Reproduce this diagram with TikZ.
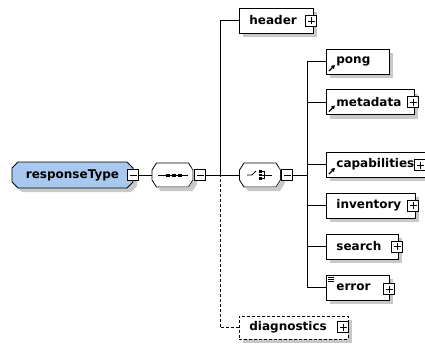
\documentclass[tikz,border=0pt]{standalone}
\usepackage{fontspec}
\setmainfont{DejaVu Sans}
\usetikzlibrary{arrows.meta, shapes.misc, shadows}
\definecolor{typecolor}  {RGB}{168, 200, 240}
\definecolor{shadecolor} {RGB}{200, 200, 200}
% octagon of a compositor (41 x 24) centred at (#1,#2), then its shadow rim
\newcommand{\compoutline}[2]{%
	\filldraw[fill=white, draw=black, line width=0.8pt] (#1,#2) ++(-16,-12)
		-- ++(32,0) -- ++(4.5,7) -- ++(0,10) -- ++(-4.5,7) -- ++(-32,0)
		-- ++(-4.5,-7) -- ++(0,-10) -- cycle;
	\begin{scope}[shift={(#1,#2)}]
		\fill[shadecolor] (18.9,-7.5) -- (20,-7.5) -- (24.5,-1) -- (24.5,9)
			-- (20,16) -- (-12,16) -- (-14.6,12.4) -- (16.2,12.4)
			-- (20.9,5.1) -- (20.9,-5.1) -- cycle;
	\end{scope}
}
\tikzset{
	xsdshadow/.style={
		drop shadow={shadow xshift=4pt, shadow yshift=-4pt,
			fill=shadecolor, opacity=1}
	},
	elembox/.style={
		rectangle, draw=black, fill=white, line width=0.8pt,
		minimum height=25pt, inner xsep=10pt, inner ysep=0pt,
		align=left, anchor=west, xsdshadow,
		font=\fontsize{12}{14}\selectfont\bfseries
	},
	optbox/.style={
		elembox, dashed, dash pattern=on 3pt off 2pt, minimum height=23pt
	},
	typebox/.style={
		chamfered rectangle, chamfered rectangle sep=3pt,
		draw=black, fill=typecolor, line width=0.8pt,
		minimum width=121pt, minimum height=26pt, inner sep=0pt,
		xsdshadow, font=\fontsize{12}{14}\selectfont\bfseries
	},
	compbox/.style={
		rectangle, minimum width=41pt, minimum height=24pt, inner sep=0pt
	},
	icon/.style={line width=0.9pt},
	refelem/.style={
		path picture={
			\draw[line width=1.2pt, -{Triangle[length=3.5pt, width=4pt]}]
				([xshift=2.5pt, yshift=3pt]path picture bounding box.south west)
				-- ++(6,-6);
		}
	},
	docelem/.style={
		path picture={
			\foreach \k in {2,4,6}
				\draw[line width=0.6pt]
					([xshift=2pt, yshift=-\k pt]path picture bounding box.north west)
					-- ++(6,0);
		}
	},
	signbox/.style={
		rectangle, draw=black, fill=white, line width=0.8pt,
		minimum size=11pt, inner sep=0pt
	},
	minusbox/.style={
		signbox,
		path picture={
			\draw[line width=0.8pt]
				([xshift=2pt]path picture bounding box.west)
				-- ([xshift=-2pt]path picture bounding box.east);
		}
	},
	plusbox/.style={
		signbox,
		path picture={
			\draw[line width=0.8pt]
				([xshift=2pt]path picture bounding box.west)
				-- ([xshift=-2pt]path picture bounding box.east);
			\draw[line width=0.8pt]
				([yshift=-2pt]path picture bounding box.north)
				-- ([yshift=2pt]path picture bounding box.south);
		}
	},
	link/.style={draw=black, line width=0.8pt},
	optlink/.style={link, dash pattern=on 3pt off 2pt}
}

\begin{document}
\begin{tikzpicture}[x=1pt, y=-1pt]
	\useasboundingbox (0,0) rectangle (425,345);
	
	%% ═══════════════════════════════
	%%  TRUNK POINTS
	%% ═══════════════════════════════
	\coordinate (trunkA) at (220,175);
	\coordinate (trunkB) at (307,175);
	
	%% ═══════════════════════════════
	%%  COLUMN 0 — complex type + sequence
	%% ═══════════════════════════════
	\node[typebox] (resptype) at (72.5,175) {responseType\hspace{14pt}};
	\node[minusbox] (respminus) at (133,175) {};
	
	\compoutline{172.5}{175}
	\node[compbox] (seq) at (172.5,175) {};
	\node[minusbox] (seqminus) at (200,175) {};
	
	% sequence icon
	\begin{scope}[shift={(seq.center)}, icon]
		\draw (-15,0) -- (15,0);
		\foreach \d in {-5,1,7}
			\fill (\d-2,-1.5) rectangle ++(4,3);
	\end{scope}
	
	%% ═══════════════════════════════
	%%  COLUMN 1 — header, choice, diagnostics
	%% ═══════════════════════════════
	\node[elembox, text width=54pt] (header) at (239,20.5) {header};
	\node[plusbox] (headerplus) at (311,21) {};
	
	\compoutline{260}{175}
	\node[compbox] (choice) at (260,175) {};
	\node[minusbox] (choiceminus) at (287,175) {};
	
	% choice icon
	\begin{scope}[shift={(choice.center)}, icon]
		\draw (-13,0) -- (-8,0) -- (-4,-4);
		\foreach \d in {-3.5,0,3.5}
			\fill (-1.5,\d-1.2) rectangle ++(3,2.4);
		\draw (1.5,-3.5) -| (4.5,3.5) -- (1.5,3.5);
		\draw (1.5,0) -- (11.5,0);
	\end{scope}
	
	\node[optbox, text width=89pt] (diag) at (239,327.5) {diagnostics};
	\node[plusbox] (diagplus) at (343,327) {};
	
	%% ═══════════════════════════════
	%%  COLUMN 2 — choice members
	%% ═══════════════════════════════
	\node[elembox, refelem, text width=43pt] (pong) at (326,61.5) {pong};
	
	\node[elembox, refelem, text width=68pt] (metadata) at (326,102) {metadata};
	\node[plusbox] (metaplus) at (413,102) {};
	
	\node[elembox, refelem, text width=84pt] (capab) at (326,164.5) {capabilities};
	\node[plusbox] (capabplus) at (420,165) {};
	
	\node[elembox, text width=69pt] (inventory) at (326,205.5) {inventory};
	\node[plusbox] (invplus) at (413,205.5) {};
	
	\node[elembox, text width=52pt] (search) at (326,246.5) {search};
	\node[plusbox] (searchplus) at (397,246.5) {};
	
	\node[elembox, docelem, text width=43pt] (error) at (326,287.5) {error};
	\node[plusbox] (errorplus) at (389,289) {};
	
	%% ═══════════════════════════════
	%%  CONNECTORS
	%% ═══════════════════════════════
	
	% type -> sequence
	\draw[link] (respminus.east) -- (seq.west);
	
	% sequence -> its members
	\draw[link] (seqminus.east) -- (choice.west);
	\draw[link] (header.west) -| (trunkA);
	\draw[optlink] (diag.west) -| (trunkA);
	
	% choice -> its members
	\draw[link] (choiceminus.east) -- (trunkB);
	\foreach \m in {pong, metadata, capab, inventory, search, error}
		\draw[link] (\m.west) -| (trunkB);
\end{tikzpicture}
\end{document}
